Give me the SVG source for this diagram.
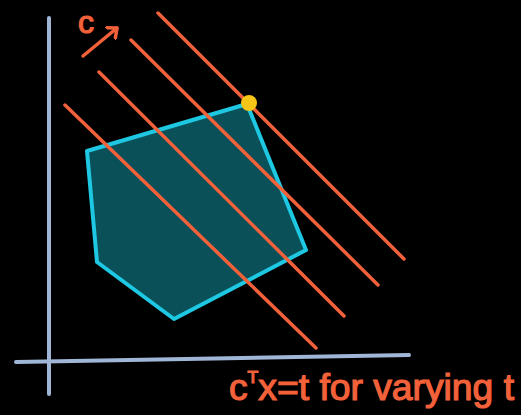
<svg xmlns="http://www.w3.org/2000/svg" width="521" height="415" viewBox="0 0 521 415">
<style>
.axis{stroke:#9fb6d6;stroke-width:4;stroke-linecap:round;fill:none}
.lvl{stroke:#f2613a;stroke-width:3.5;stroke-linecap:round;fill:none}
.lbl{fill:#f2613a;stroke:#f2613a;stroke-width:1.2;font-family:"Liberation Sans",sans-serif}
</style>
<defs>
<marker id="ah" markerWidth="16" markerHeight="16" refX="9" refY="8" orient="auto" markerUnits="userSpaceOnUse">
<path d="M1,1 L9,8 L1,15" fill="none" stroke="#f2613a" stroke-width="3.5" stroke-linecap="round" stroke-linejoin="round"/>
</marker>
</defs>
<rect width="521" height="415" fill="#000"/>
<g id="axes">
<line class="axis" x1="49" y1="18" x2="49" y2="394"/>
<line class="axis" x1="16" y1="362" x2="409" y2="355"/>
</g>
<g id="polytope">
<path d="M87,151 L247,104 L306,250 L174,319 L97,262 Z" fill="#0a5058" stroke="#1ec8e2" stroke-width="4" stroke-linejoin="round"/>
</g>
<g id="connectors">
<line class="lvl" x1="158" y1="13" x2="404" y2="259"/>
<line class="lvl" x1="131" y1="40" x2="378" y2="285"/>
<line class="lvl" x1="99" y1="72" x2="344" y2="316"/>
<line class="lvl" x1="65" y1="105" x2="316" y2="348"/>
<line class="lvl" x1="83" y1="56" x2="117" y2="28" marker-end="url(#ah)"/>
</g>
<g id="optimum">
<circle cx="249" cy="103" r="8" fill="#f5c518"/>
</g>
<g id="label-c">
<text class="lbl" x="78" y="33" font-size="32">c</text>
</g>
<g id="label-eq">
<text class="lbl" x="229" y="400" font-size="36" textLength="285" lengthAdjust="spacingAndGlyphs">c<tspan font-size="17" dy="-17">T</tspan><tspan dy="17">x=t for varying t</tspan></text>
</g>
</svg>
